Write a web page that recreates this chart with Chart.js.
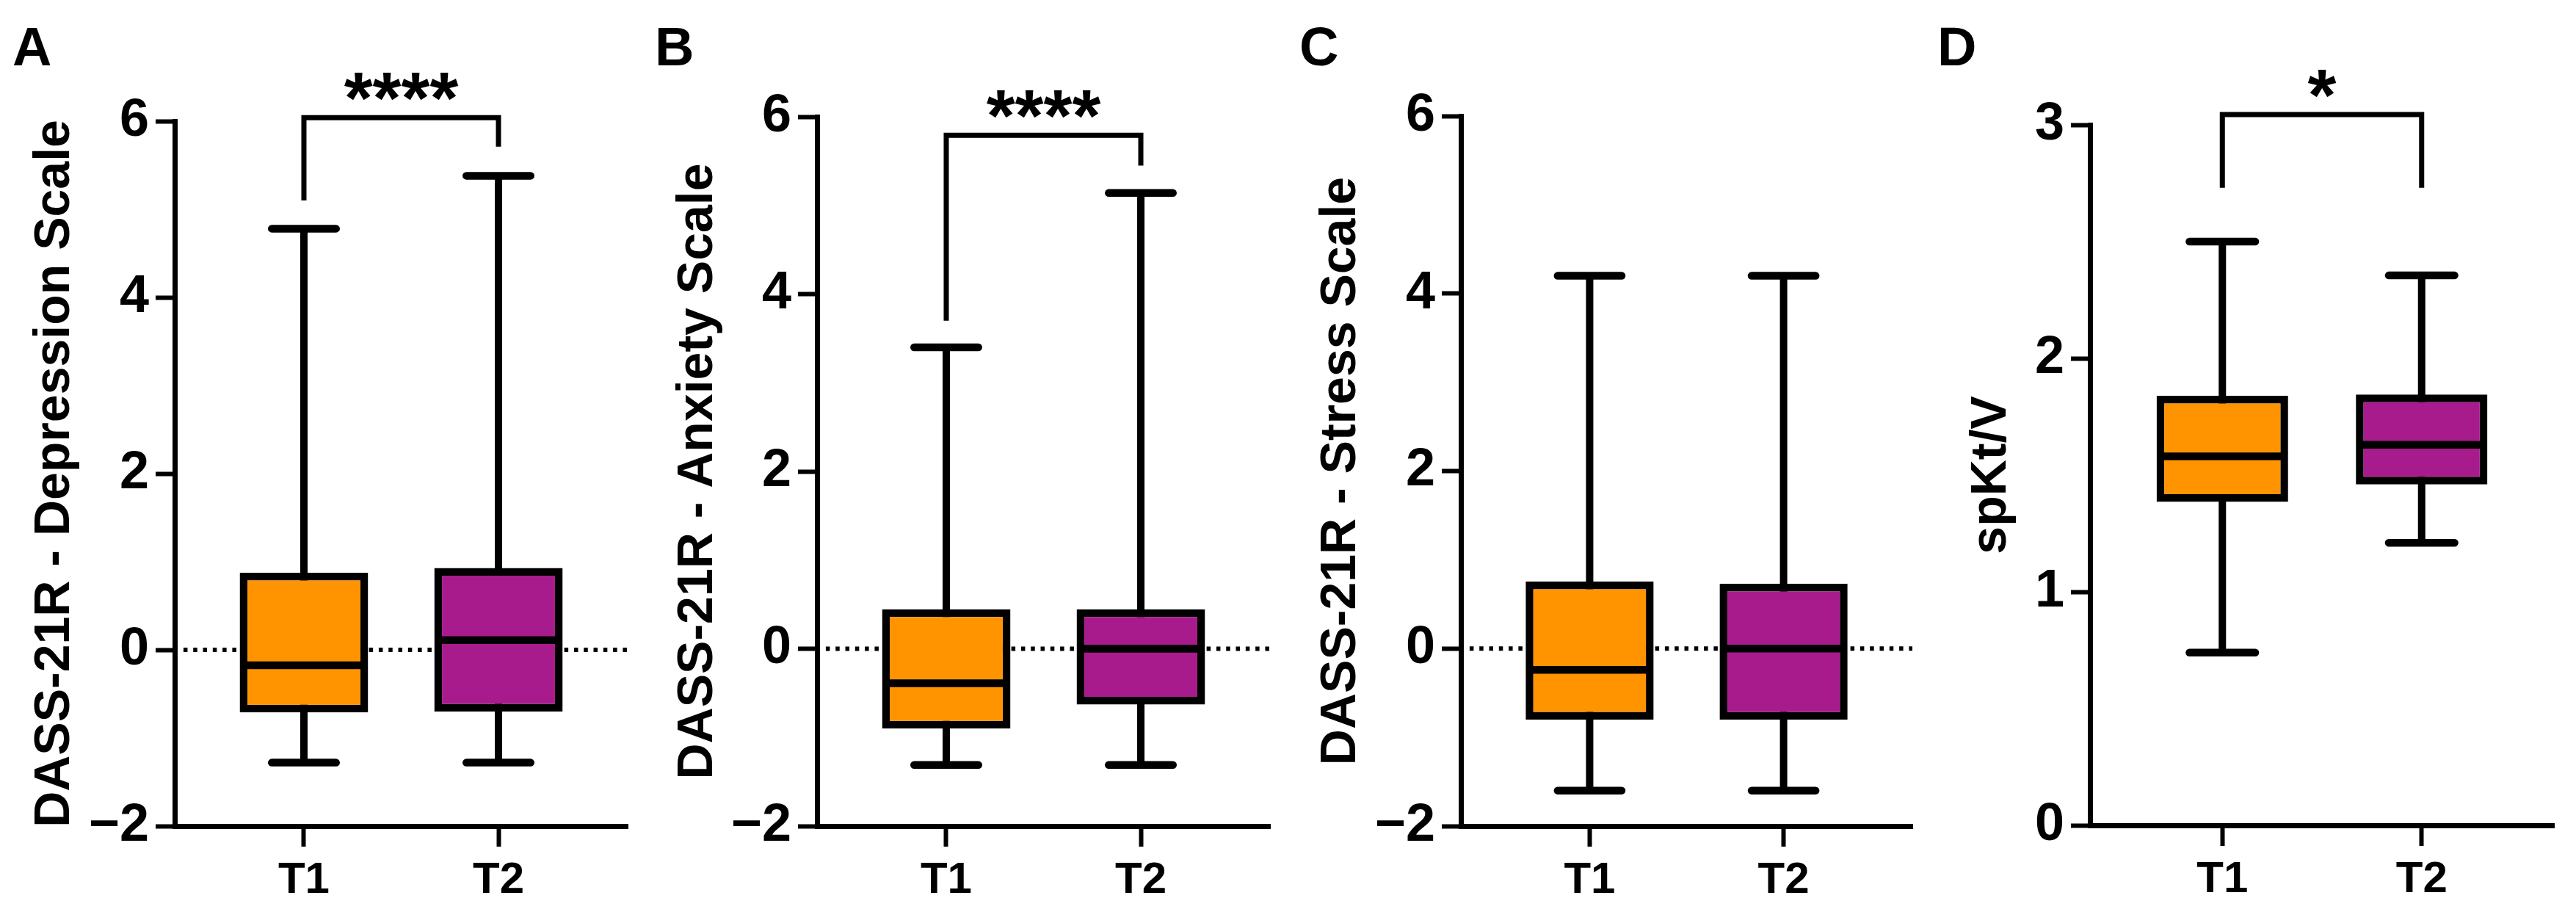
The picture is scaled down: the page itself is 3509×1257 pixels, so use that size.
<!DOCTYPE html>
<html><head><meta charset="utf-8">
<script src="https://cdn.jsdelivr.net/npm/chart.js@4.4.0/dist/chart.umd.min.js"></script>
<style>
html,body{margin:0;padding:0;background:#fff;}
#wrap{position:relative;width:3509px;height:1257px;overflow:hidden;background:#fff;}
canvas{position:absolute;top:0;}
</style></head><body><div id="wrap"></div>
<script>
// ---------------- data ----------------
const categories = ['T1', 'T2'];
const panelLetters = ['A', 'B', 'C', 'D'];
const yTitles = ['DASS-21R - Depression Scale', 'DASS-21R - Anxiety Scale', 'DASS-21R - Stress Scale', 'spKt/V'];
const yTicksDASS = [-2, 0, 2, 4, 6];
const yTicksKtV = [0, 1, 2, 3];

// A: Depression
const depMin = [-1.28, -1.28];
const depQ1 = [-0.71, -0.70];
const depMedian = [-0.175, 0.11];
const depQ3 = [0.875, 0.93];
const depMax = [4.78, 5.38];
// B: Anxiety
const anxMin = [-1.31, -1.31];
const anxQ1 = [-0.90, -0.63];
const anxMedian = [-0.39, 0.0];
const anxQ3 = [0.445, 0.445];
const anxMax = [3.40, 5.14];
// C: Stress
const strMin = [-1.60, -1.60];
const strQ1 = [-0.80, -0.80];
const strMedian = [-0.24, 0.0];
const strQ3 = [0.755, 0.73];
const strMax = [4.20, 4.20];
// D: spKt/V
const ktvMin = [0.74, 1.21];
const ktvQ1 = [1.385, 1.46];
const ktvMedian = [1.58, 1.63];
const ktvQ3 = [1.84, 1.845];
const ktvMax = [2.50, 2.355];

// significance brackets: [T1 leg end, bracket top, T2 leg end]
const depBracket = [5.10, 6.04, 5.71];
const anxBracket = [3.70, 5.79, 5.45];
const strBracket = [];
const ktvBracket = [2.73, 3.044, 2.73];
const sigLabels = ['****', '****', '', '*'];
const referenceLine = [0, 0, 0, null];

// ---------------- style / layout ----------------
const FONT = '"Liberation Sans", Arial, Helvetica, sans-serif';
const BOX_COLORS = ['#FF9400', '#A81B8D'];
const XPAD = 0.664;      // axis extends this far beyond the first/last category
const CAP = 0.165;       // half-width of whisker caps (x units)
const HALF = 0.31;       // half-width of median line (x units)
const H = 1257;
const layouts = [
  {left: 0,    width: 880, axisX: 238,  right: 855,  top: 165, bottom: 1125, titleCx: 75,   letterX: 17},
  {left: 870,  width: 885, axisX: 1113, right: 1730, top: 159, bottom: 1125, titleCx: 951,  letterX: 22},
  {left: 1750, width: 880, axisX: 1990, right: 2605, top: 158, bottom: 1125, titleCx: 1827, letterX: 20},
  {left: 2625, width: 884, axisX: 2847, right: 3479, top: 170, bottom: 1124, titleCx: 2713, letterX: 14}
];

const annotPlugin = {
  id: 'annot',
  afterDraw(chart, args, opts) {
    const ctx = chart.ctx;
    ctx.save();
    ctx.fillStyle = '#000';
    ctx.textBaseline = 'alphabetic';
    ctx.textAlign = 'left';
    ctx.font = 'bold 74px ' + FONT;
    ctx.fillText(opts.letter, opts.letterX, 89);
    if (opts.sig) {
      const xs = chart.scales.x, ys = chart.scales.y;
      const cx = (xs.getPixelForValue(1) + xs.getPixelForValue(2)) / 2;
      const cy = ys.getPixelForValue(opts.top);
      ctx.font = 'bold 100px ' + FONT;
      ctx.textAlign = 'center';
      ctx.fillText(opts.sig, cx, cy + 8);
    }
    ctx.restore();
  }
};

function line(data, w, order, cap) {
  return {type: 'line', data, borderColor: '#000', borderWidth: w, pointRadius: 0, pointHoverRadius: 0,
          fill: false, tension: 0, order, clip: false, borderCapStyle: cap || 'butt', spanGaps: false};
}

function makePanel(i, stats, yTicks, bracket) {
  const L = layouts[i];
  const wrap = document.getElementById('wrap');
  const cv = document.createElement('canvas');
  cv.width = L.width; cv.height = H;
  cv.style.left = L.left + 'px';
  cv.style.width = L.width + 'px'; cv.style.height = H + 'px';
  wrap.appendChild(cv);
  const xs = categories.map((c, k) => k + 1);
  const [mins, q1s, meds, q3s, maxs] = stats;
  const datasets = [];
  datasets.push({type: 'bar', data: xs.map((x, k) => ({x, y: [q1s[k], q3s[k]]})),
    backgroundColor: BOX_COLORS, borderColor: '#000', borderWidth: 10.5, borderSkipped: false,
    barPercentage: 0.66, categoryPercentage: 1, order: 2});
  xs.forEach((x, k) => {
    datasets.push(line([{x, y: mins[k]}, {x, y: maxs[k]}], 10, 3));
    datasets.push(line([{x: x - CAP, y: maxs[k]}, {x: x + CAP, y: maxs[k]}], 10.5, 1, 'round'));
    datasets.push(line([{x: x - CAP, y: mins[k]}, {x: x + CAP, y: mins[k]}], 10.5, 1, 'round'));
    datasets.push(line([{x: x - HALF, y: meds[k]}, {x: x + HALF, y: meds[k]}], 10.5, 1));
  });
  if (referenceLine[i] !== null) {
    const d = line([{x: 1 - XPAD + 0.045, y: referenceLine[i]}, {x: xs[xs.length - 1] + XPAD, y: referenceLine[i]}], 6, 4);
    d.borderDash = [5.5, 7.8];
    datasets.push(d);
  }
  if (bracket.length) {
    datasets.push(line([{x: 1, y: bracket[0]}, {x: 1, y: bracket[1]}, {x: 2, y: bracket[1]}, {x: 2, y: bracket[2]}], 7, 0));
  }
  new Chart(cv, {
    type: 'bar',
    data: {datasets},
    plugins: [annotPlugin],
    options: {
      responsive: false, animation: false, events: [],
      layout: {padding: {left: 0, right: L.left + L.width - L.right, top: L.top, bottom: 0}},
      plugins: {
        legend: {display: false}, tooltip: {enabled: false},
        annot: {letter: panelLetters[i], letterX: L.letterX, sig: sigLabels[i], top: bracket[1]}
      },
      scales: {
        x: {
          type: 'linear', min: 1 - XPAD, max: xs[xs.length - 1] + XPAD, offset: false,
          grid: {display: true, drawOnChartArea: false, drawTicks: true, tickLength: 28, tickWidth: 6, tickColor: '#000', offset: false},
          border: {display: true, color: '#000', width: 7},
          ticks: {color: '#000', font: {family: FONT, size: 60, weight: 'bold'}, padding: 10, maxRotation: 0, autoSkip: false,
                  callback: (v, idx) => categories[idx]},
          afterBuildTicks: s => { s.ticks = xs.map(v => ({value: v})); },
          afterFit: s => { s.height = H - L.bottom; }
        },
        y: {
          type: 'linear', min: yTicks[0], max: yTicks[yTicks.length - 1],
          grid: {display: true, drawOnChartArea: false, drawTicks: true, tickLength: 26, tickWidth: 6, tickColor: '#000'},
          border: {display: true, color: '#000', width: 7},
          ticks: {color: '#000', font: {family: FONT, size: 72, weight: 'bold'}, padding: 9, autoSkip: false,
                  callback: v => (v < 0 ? '\u2212' + Math.abs(v) : String(v))},
          afterBuildTicks: s => { s.ticks = yTicks.map(v => ({value: v})); },
          title: {display: true, text: yTitles[i], color: '#000',
                  font: {family: FONT, size: 68, weight: 'bold', lineHeight: 1.2},
                  padding: {top: L.titleCx - L.left - 40.8, bottom: 0}},
          afterFit: s => { s.width = L.axisX - L.left; }
        }
      }
    }
  });
}

Chart.defaults.font.family = FONT;
makePanel(0, [depMin, depQ1, depMedian, depQ3, depMax], yTicksDASS, depBracket);
makePanel(1, [anxMin, anxQ1, anxMedian, anxQ3, anxMax], yTicksDASS, anxBracket);
makePanel(2, [strMin, strQ1, strMedian, strQ3, strMax], yTicksDASS, strBracket);
makePanel(3, [ktvMin, ktvQ1, ktvMedian, ktvQ3, ktvMax], yTicksKtV, ktvBracket);
</script>
</body></html>
